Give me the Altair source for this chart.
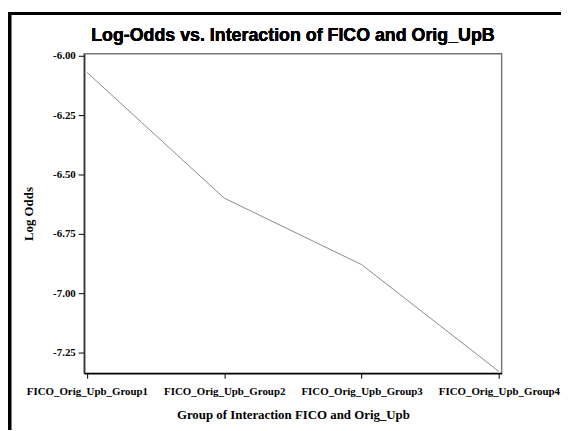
import altair as alt
import pandas as pd

groups = ["FICO_Orig_Upb_Group1", "FICO_Orig_Upb_Group2",
          "FICO_Orig_Upb_Group3", "FICO_Orig_Upb_Group4"]
log_odds = [-6.07, -6.60, -6.88, -7.33]
y_ticks = [-6.00, -6.25, -6.50, -6.75, -7.00, -7.25]
title_text = "Log-Odds vs. Interaction of FICO and Orig_UpB"

df = pd.DataFrame({"group": groups, "log_odds": log_odds})

serif = "Liberation Serif"
sans = "Liberation Sans"

line = alt.Chart(df).mark_line(color="#8a8a8a", strokeWidth=1).encode(
    x=alt.X("group:N", sort=groups,
            scale=alt.Scale(type="point", padding=0.02),
            axis=alt.Axis(title="Group of Interaction FICO and Orig_Upb",
                          labelAngle=0, labelFont=serif, labelFontWeight="bold",
                          labelFontSize=11, labelColor="black", labelPadding=7,
                          tickSize=5, tickColor="black", domainColor="black",
                          domainWidth=1.5, titleFont=serif, titleFontWeight="bold",
                          titleFontSize=13, titleColor="black", titlePadding=13,
                          grid=False)),
    y=alt.Y("log_odds:Q",
            scale=alt.Scale(domain=[-7.338, -5.992], nice=False, zero=False),
            axis=alt.Axis(title="Log Odds", values=y_ticks, format=".2f",
                          labelExpr="replace(datum.label, '\u2212', '-')",
                          labelFont=serif, labelFontWeight="bold", labelFontSize=11,
                          labelColor="black", labelPadding=3, tickSize=6,
                          tickColor="black", domainColor="#333", domainWidth=1.5,
                          titleFont=serif, titleFontWeight="bold", titleFontSize=13,
                          titleColor="black", titlePadding=17, grid=False)),
)

title = alt.Chart(df).mark_text(
    font=sans, fontSize=18, fontWeight="bold", color="black",
    align="center", baseline="middle",
).encode(
    x=alt.value(211), y=alt.value(-18), text=alt.value(title_text)
)

border = alt.Chart(df).mark_rect(fill=None, stroke="black", strokeWidth=3).encode(
    x=alt.value(-75.3), x2=alt.value(700),
    y=alt.value(-40.8), y2=alt.value(600),
)

chart = alt.layer(line, title, border).properties(
    width=422, height=323,
    autosize=alt.AutoSizeParams(type="none"),
    padding={"left": 77, "top": 44, "right": 60, "bottom": 55},
).configure_view(stroke="#777", strokeWidth=1.5)

chart.save("out.html", embed_options={"renderer": "svg", "actions": False})
